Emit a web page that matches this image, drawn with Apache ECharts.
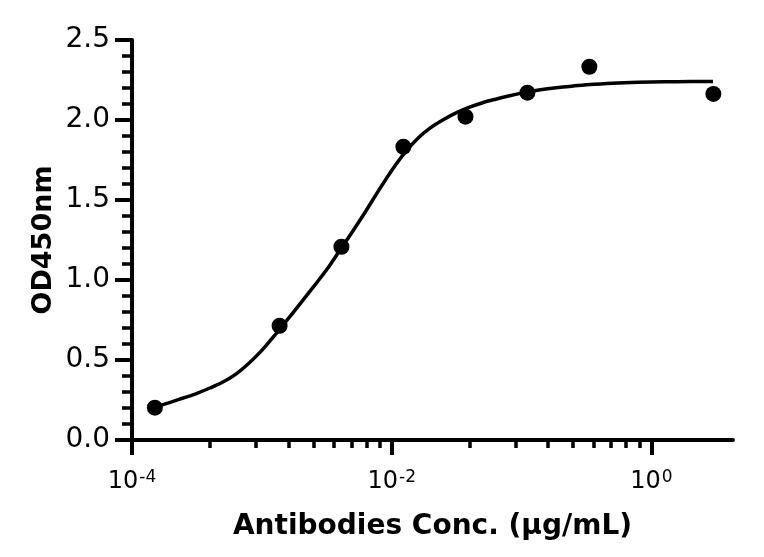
<!DOCTYPE html>
<html>
<head>
<meta charset="utf-8">
<script src="https://cdn.jsdelivr.net/npm/echarts@6/dist/echarts.min.js"></script>
<style>
html,body{margin:0;padding:0;background:#fff;}
#chart{width:764px;height:557px;}
</style>
</head>
<body>
<div id="chart"></div>
<script>
// Measured points (concentration in µg/mL, OD450)
const concX = [0.00015, 0.00137, 0.0041, 0.0123, 0.037, 0.111, 0.333, 3.0];
const odY   = [0.202, 0.714, 1.208, 1.833, 2.021, 2.171, 2.333, 2.163];

// Fitted curve: log10(concentration) and OD450
const fitLogX = [-3.826, -3.7, -3.6, -3.5, -3.4, -3.3, -3.2, -3.1, -3.0, -2.9, -2.8, -2.7, -2.6, -2.5, -2.4, -2.3, -2.2, -2.1, -2.0, -1.9, -1.8, -1.7, -1.6, -1.5, -1.4, -1.3, -1.2, -1.1, -1.0, -0.9, -0.8, -0.7, -0.6, -0.5, -0.3, -0.1, 0.1, 0.3, 0.474];
const fitY    = [0.205, 0.237, 0.264, 0.292, 0.325, 0.362, 0.412, 0.480, 0.560, 0.655, 0.755, 0.857, 0.960, 1.065, 1.185, 1.305, 1.430, 1.560, 1.685, 1.795, 1.885, 1.952, 2.003, 2.046, 2.080, 2.108, 2.130, 2.150, 2.168, 2.183, 2.195, 2.205, 2.213, 2.220, 2.230, 2.236, 2.239, 2.240, 2.240];

// Axis ticks
const xTickExponents = [-4, -2, 0];
const xMinorMultipliers = [4, 9, 16, 25, 36, 49, 64, 81];
const yTickValues = [0.0, 0.5, 1.0, 1.5, 2.0, 2.5];

const xMajor = xTickExponents.map(e => Math.pow(10, e));
const xMinor = [];
xMajor.slice(0, -1).forEach(b => xMinorMultipliers.forEach(m => xMinor.push(b * m)));

const FONT = "'DejaVu Sans'";
const X_MIN = 1e-4, X_MAX = 4.25;

const chart = echarts.init(document.getElementById('chart'), null, {renderer: 'canvas'});
chart.setOption({
  backgroundColor: '#ffffff',
  animation: false,
  grid: {left: 132, right: 31, top: 40, bottom: 117, containLabel: false, outerBoundsMode: 'none'},
  xAxis: [{
    type: 'log', logBase: 10, min: X_MIN, max: X_MAX, position: 'bottom',
    name: 'Antibodies Conc. (µg/mL)', nameLocation: 'middle', nameGap: 73, nameMoveOverlap: false,
    nameTextStyle: {fontFamily: FONT, fontWeight: 'bold', fontSize: 28, color: '#000', lineHeight: 28},
    axisLine: {show: true, onZero: false, lineStyle: {color: '#000', width: 4}},
    axisTick: {show: true, inside: false, length: 15, customValues: xMajor, lineStyle: {color: '#000', width: 4}},
    minorTick: {show: false},
    splitLine: {show: false}, minorSplitLine: {show: false},
    axisLabel: {
      show: true, margin: 30, customValues: xMajor, color: '#000',
      fontFamily: FONT, fontSize: 24,
      formatter: function (v) {
        const e = Math.round(Math.log10(v));
        return '{b|10}{s|' + e + '}';
      },
      rich: {
        b: {fontFamily: FONT, fontSize: 24, lineHeight: 24, color: '#000'},
        s: {fontFamily: FONT, fontSize: 17, lineHeight: 17, padding: [0, 0, 8, 1], color: '#000'}
      }
    }
  }, {
    type: 'log', logBase: 10, min: X_MIN, max: X_MAX, position: 'bottom', gridIndex: 0,
    axisLine: {show: false, onZero: false},
    axisTick: {show: true, inside: false, length: 8, customValues: xMinor, lineStyle: {color: '#000', width: 3.5}},
    axisLabel: {show: false},
    splitLine: {show: false}, minorTick: {show: false}
  }],
  yAxis: {
    type: 'value', min: 0, max: 2.5, interval: 0.5,
    name: 'OD450nm', nameLocation: 'middle', nameGap: 74, nameRotate: 90, nameMoveOverlap: false,
    nameTextStyle: {fontFamily: FONT, fontWeight: 'bold', fontSize: 27, color: '#000', lineHeight: 28},
    axisLine: {show: true, onZero: false, lineStyle: {color: '#000', width: 4}},
    axisTick: {show: true, inside: false, length: 17, lineStyle: {color: '#000', width: 4}},
    minorTick: {show: true, splitNumber: 5, length: 10, lineStyle: {color: '#000', width: 3.5}},
    splitLine: {show: false}, minorSplitLine: {show: false},
    axisLabel: {
      show: true, margin: 22, color: '#000', fontFamily: FONT, fontSize: 28,
      customValues: yTickValues,
      formatter: v => v.toFixed(1)
    }
  },
  series: [{
    type: 'line', name: 'fit', xAxisIndex: 0,
    data: fitLogX.map((e, i) => [Math.pow(10, e), fitY[i]]),
    smooth: 0.3, showSymbol: false, symbol: 'none',
    lineStyle: {color: '#000', width: 3.5}, z: 2, silent: true
  }, {
    type: 'scatter', name: 'data', xAxisIndex: 0,
    data: concX.map((x, i) => [x, odY[i]]),
    symbol: 'circle', symbolSize: 16,
    itemStyle: {color: '#000', opacity: 1}, z: 3
  }]
});
</script>
</body>
</html>
